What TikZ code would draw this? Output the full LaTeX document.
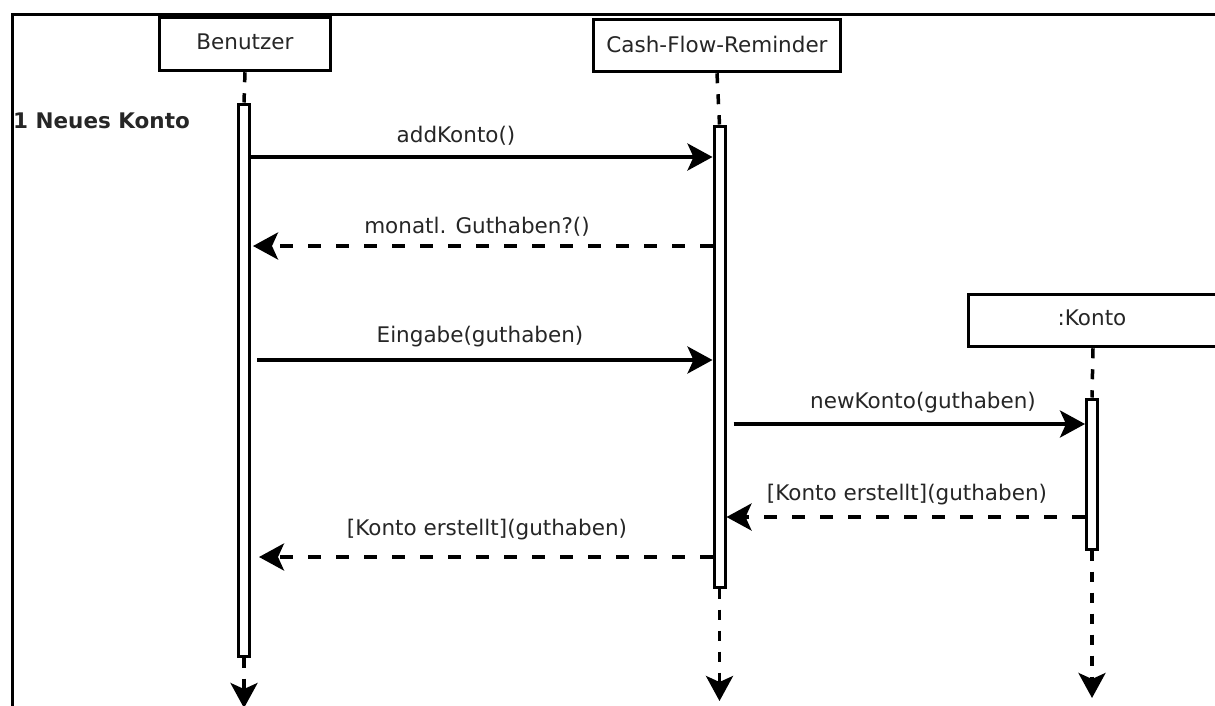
\documentclass[tikz,border=0pt]{standalone}
\usepackage{fontspec}
\setmainfont{DejaVu Sans}
\usetikzlibrary{arrows.meta}
\begin{document}
\begin{tikzpicture}[x=1pt,y=-1pt,
  txt/.style={text=black!85,font=\fontsize{21.5}{26}\selectfont,inner sep=0pt},
  lbl/.style={txt,anchor=base},
  objbox/.style={draw,line width=3.5pt,fill=white,inner sep=0pt,txt},
  actbox/.style={draw,line width=3pt,fill=white,minimum width=11pt,inner sep=0pt},
  tip/.style={-{Stealth[length=25pt,width=27pt,inset=6pt]}},
  msg/.style={line width=3.5pt,tip},
  reply/.style={msg,dash pattern=on 13pt off 15pt},
  life/.style={line width=3.5pt,dash pattern=on 10pt off 11pt}]
\useasboundingbox (0,0) rectangle (1215,705);

% frame of the interaction
\draw[line width=3.5pt] (12.5,710) -- (12.5,14.5) -- (1220,14.5);
\node[anchor=base west,txt,font=\fontsize{21.5}{26}\selectfont\bfseries] (frag) at (13,128) {1 Neues Konto};

% participants
\node[objbox,minimum width=171pt,minimum height=53pt] (ben) at (245,44) {};
\node[lbl] (benlbl) at (245,49) {Benutzer};
\node[objbox,minimum width=247pt,minimum height=52pt] (cfr) at (717,45.5) {};
\node[lbl] (cfrlbl) at (717,52) {Cash-Flow-Reminder};
\node[objbox,minimum width=249pt,minimum height=52pt] (kto) at (1093,320.5) {};
\node[lbl] (ktolbl) at (1092,325) {:Konto};

% activation bars
\node[actbox,minimum height=552pt] (bact) at (244,380) {};
\node[actbox,minimum height=461pt] (cact) at (719.5,356.5) {};
\node[actbox,minimum height=150pt] (kact) at (1092,474) {};

% lifelines
\coordinate (bend) at (244,708);
\coordinate (cend) at (719.5,701);
\coordinate (kend) at (1092,698);
\draw[life] (ben.south) -- (bact.north);
\draw[life] (cfr.south) -- (cact.north);
\draw[life] (kto.south) -- (kact.north);
\draw[life,tip] (bact.south) -- (bend);
\draw[life,tip] (cact.south) -- (cend);
\draw[life,tip] (kact.south) -- (kend);

% messages
\draw[msg] (bact.east |- 0,157) -- (cact.west |- 0,157);
\node[lbl] (m1) at (456,142) {addKonto()};

\draw[reply] (cact.west |- 0,246) -- ([xshift=2pt]bact.east |- 0,246);
\node[lbl] (m2) at (477,233) {monatl. Guthaben?()};

\draw[msg] ([xshift=6pt]bact.east |- 0,360) -- (cact.west |- 0,360);
\node[lbl] (m3) at (480,342) {Eingabe(guthaben)};

\draw[msg] ([xshift=7pt]cact.east |- 0,424) -- (kact.west |- 0,424);
\node[lbl] (m4) at (923,408) {newKonto(guthaben)};

\draw[reply] (kact.west |- 0,517) -- (cact.east |- 0,517);
\node[lbl] (m5) at (907,500) {[Konto erstellt](guthaben)};

\draw[reply] (cact.west |- 0,557) -- ([xshift=8pt]bact.east |- 0,557);
\node[lbl] (m6) at (487,535) {[Konto erstellt](guthaben)};
\end{tikzpicture}
\end{document}
